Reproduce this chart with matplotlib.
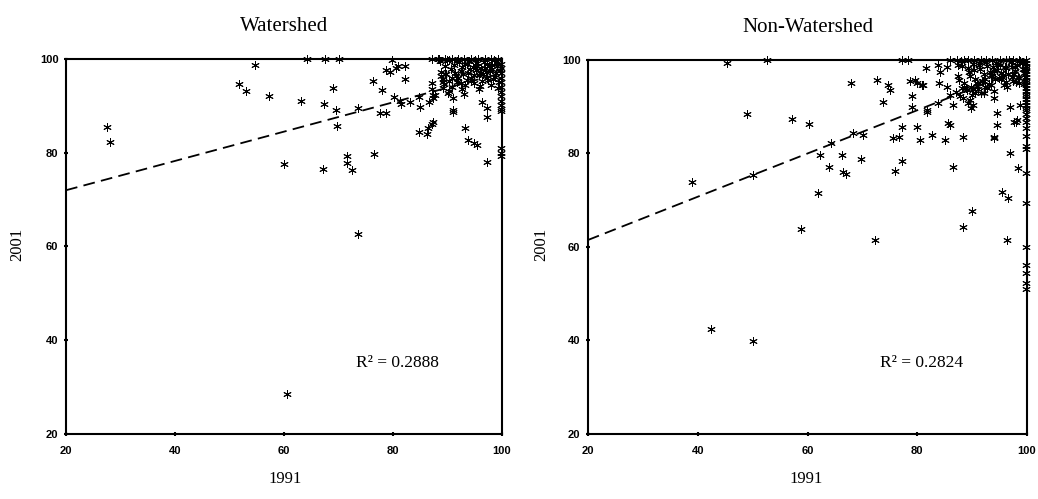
import matplotlib.pyplot as plt

# Watershed : points disperses (1991, 2001)
ws_x = [27.5, 28.1, 54.6, 51.7, 53.0, 57.3, 60.0, 63.1, 67.3, 69.0,
        69.6, 69.7, 67.2, 71.6, 71.6, 72.5, 73.6, 73.6, 76.4, 76.6,
        77.9, 77.6, 78.8, 78.8, 79.8, 80.1, 81.2, 81.5, 81.0, 82.2,
        82.2, 83.1, 84.7, 84.8, 85.0, 86.2, 86.5, 87.1, 87.4, 86.7,
        87.4, 87.7, 87.1, 87.1, 90.1, 91.0, 91.1, 93.2, 93.8, 94.8,
        95.4, 97.2, 96.3, 97.2, 97.2, 60.5, 64.2, 67.5, 70.1, 87.1,
        88.3, 80.6, 79.5, 89.2, 89.8, 90.2, 91.1, 87.3]
ws_y = [85.4, 82.2, 98.7, 94.6, 93.2, 92.2, 77.7, 91.0, 90.5, 93.9,
        89.1, 85.7, 76.5, 79.3, 77.8, 76.4, 89.5, 62.7, 95.2, 79.8,
        93.4, 88.4, 88.4, 97.6, 99.8, 91.9, 91.1, 90.5, 98.4, 98.5,
        95.7, 90.9, 84.5, 91.9, 89.8, 84.1, 85.2, 86.2, 86.6, 90.9,
        91.6, 92.4, 94.8, 93.7, 92.7, 89.1, 91.6, 85.2, 82.7, 82.0,
        81.6, 78.0, 90.9, 89.5, 87.7, 28.5, 100, 100, 100, 100,
        100, 98.0, 97.2, 95.1, 96.9, 99.8, 88.7, 92.3]

# Watershed : amas en haut a droite
ws_amas_x = [88.6, 88.9, 89.1, 89.3, 89.5, 89.2, 88.8, 89.6, 89.9, 90.3,
             90.6, 90.8, 91.2, 91.5, 91.8, 92.1, 92.4, 92.6, 92.9, 93.2,
             93.5, 93.8, 94.0, 94.3, 94.6, 94.9, 95.2, 95.5, 95.8, 96.1,
             96.4, 96.7, 97.0, 97.3, 97.6, 97.9, 98.2, 98.5, 98.8, 99.1,
             99.4, 91.4, 92.0, 92.7, 93.3, 94.1, 94.8, 95.4, 96.0, 96.6,
             97.2, 97.8, 98.4, 99.0, 99.6, 90.2, 90.9, 91.7, 92.5, 93.6,
             94.4, 95.1, 95.9, 96.8, 97.5, 98.1, 98.9, 99.3, 93.0, 95.7,
             88.5, 89.6, 90.8, 92.0, 93.1, 94.3, 95.6, 96.8, 98.0, 99.2]
ws_amas_y = [99.5, 97.2, 95.8, 94.6, 98.4, 93.8, 96.4, 96.9, 99.8, 95.2,
             97.9, 94.1, 98.7, 96.3, 95.0, 99.3, 97.5, 93.6, 96.8, 98.9,
             95.6, 97.1, 99.6, 96.0, 98.2, 94.8, 97.7, 99.1, 96.5, 98.0,
             95.3, 99.4, 97.3, 96.0, 98.6, 94.5, 97.9, 99.7, 96.2, 98.4,
             95.1, 97.0, 95.9, 98.3, 94.4, 97.8, 96.6, 98.5, 97.0, 96.9,
             99.0, 97.4, 95.8, 99.2, 97.6, 93.2, 96.0, 99.5, 94.9, 99.0,
             95.5, 99.8, 94.2, 98.1, 95.6, 98.8, 97.1, 93.9, 92.5, 93.5,
             100, 100, 100, 100, 100, 100, 100, 100, 100, 100]

# Watershed : colonne a 100 en 1991
ws_bord_y = [99.0, 98.0, 97.0, 96.0, 95.0, 94.0, 93.0, 92.0, 91.0, 90.2,
             89.4, 88.8, 81.0, 80.0, 79.3]

# Non-Watershed : points disperses
nw_x = [38.9, 45.3, 48.9, 50.1, 52.6, 57.1, 60.3, 58.9, 61.9, 62.3,
        64.0, 64.2, 66.2, 66.5, 67.1, 67.9, 68.2, 69.7, 70.2, 72.3,
        72.6, 73.8, 74.7, 75.0, 75.6, 76.6, 77.2, 75.9, 77.3, 77.2,
        78.4, 78.7, 79.6, 80.8, 79.0, 79.0, 79.9, 80.5, 81.7, 81.6,
        82.6, 85.1, 85.6, 86.0, 86.6, 88.4, 88.4, 89.9, 89.8, 93.9,
        94.5, 94.5, 95.4, 96.6, 96.3, 96.9, 96.9, 97.7, 98.4, 94.0,
        98.0, 42.4, 50.1, 83.8, 84.1, 85.4, 84.0, 85.4, 86.0, 86.6,
        83.8, 81.7, 87.5, 88.1, 89.6, 90.5, 90.2, 92.3, 93.9, 98.1,
        98.7, 79.9, 81.1]
nw_y = [73.8, 99.4, 88.4, 75.3, 100, 87.3, 86.2, 63.8, 71.5, 79.7,
        77.2, 82.3, 79.7, 76.1, 75.6, 95.0, 84.3, 78.8, 84.0, 61.5,
        95.7, 91.1, 94.7, 93.6, 83.3, 83.6, 85.7, 76.3, 78.3, 100,
        100, 95.4, 95.7, 94.7, 92.2, 90.0, 85.7, 82.9, 89.3, 98.2,
        84.0, 82.9, 86.5, 86.1, 77.2, 83.6, 64.3, 67.6, 89.8, 83.6,
        88.6, 86.1, 71.8, 70.4, 61.5, 80.0, 90.0, 86.8, 76.8, 83.3,
        86.8, 42.5, 39.8, 98.9, 97.5, 98.6, 95.0, 94.3, 92.5, 90.4,
        90.7, 88.9, 98.9, 93.9, 91.4, 92.9, 90.4, 94.3, 91.8, 87.2,
        90.4, 95.0, 94.7]

# Non-Watershed : amas en haut a droite
nw_amas_x = [87.0, 87.4, 87.8, 88.2, 88.6, 89.0, 89.4, 89.8, 90.2, 90.6,
             91.0, 91.4, 91.8, 92.2, 92.6, 93.0, 93.4, 93.8, 94.2, 94.6,
             95.0, 95.4, 95.8, 96.2, 96.6, 97.0, 97.4, 97.8, 98.2, 98.6,
             99.0, 99.4, 87.6, 88.4, 89.2, 90.0, 90.8, 91.6, 92.4, 93.2,
             94.0, 94.8, 95.6, 96.4, 97.2, 98.0, 98.8, 99.6, 88.0, 88.8,
             89.6, 90.4, 91.2, 92.0, 92.8, 93.6, 94.4, 95.2, 96.0, 96.8,
             97.6, 98.4, 99.2, 90.1, 91.3, 92.7, 93.9, 95.3, 96.5, 97.9,
             99.1, 89.3, 90.9, 92.1, 93.5, 94.9, 96.1, 97.3, 98.5, 99.5,
             86.0, 87.2, 88.5, 89.3, 90.4, 91.6, 92.5, 93.7, 95.0, 96.2,
             97.5, 98.6]
nw_amas_y = [93.1, 96.5, 92.4, 98.8, 95.0, 93.6, 97.4, 94.3, 99.2, 96.0,
             93.8, 98.0, 95.5, 97.0, 99.6, 94.8, 96.7, 98.5, 95.9, 97.8,
             99.0, 96.3, 94.6, 98.2, 97.1, 99.5, 95.4, 97.6, 98.9, 96.1,
             99.3, 97.2, 95.7, 91.8, 98.3, 92.6, 95.1, 93.0, 96.0, 97.4,
             93.4, 99.1, 96.8, 94.2, 98.6, 95.3, 99.8, 98.0, 99.7, 94.0,
             96.6, 97.9, 99.0, 95.6, 98.7, 96.5, 99.4, 97.2, 98.4, 99.9,
             97.0, 96.3, 98.1, 93.7, 99.3, 93.9, 97.7, 95.9, 96.9, 98.6,
             99.6, 90.9, 94.5, 92.9, 94.7, 96.2, 95.2, 96.4, 95.0, 94.9,
             100, 100, 100, 100, 100, 100, 100, 100, 100, 100,
             100, 100]

# Non-Watershed : colonne a 100 en 1991
nw_bord_y = [100, 99.4, 98.8, 98.2, 97.6, 97.0, 96.4, 95.8, 95.2, 94.6,
             94.0, 93.4, 92.8, 92.2, 91.6, 91.0, 90.4, 89.8, 89.2, 88.4,
             87.6, 86.8, 85.5, 83.7, 81.5, 81.0, 75.8, 69.4, 60.1, 56.1,
             54.5, 52.4, 51.0]

# droites de tendance (extremites)
ws_trend_x = [20, 100]
ws_trend_y = [72.0, 97.0]
nw_trend_x = [20, 100]
nw_trend_y = [61.5, 98.5]

ticks = [20, 40, 60, 80, 100]

fig = plt.figure(figsize=(10.38, 4.99), dpi=100)
serif = "Liberation Serif"
etoile = dict(ls="none", marker=(6, 2, 0), ms=6, mew=0.7, color="black",
              clip_on=False)


def panneau(ax, pts, amas, bord_y, tx, ty, titre, r2):
    ax.plot(pts[0], pts[1], **etoile)
    ax.plot(amas[0], amas[1], **etoile)
    ax.plot([99.8] * len(bord_y), bord_y, **etoile)
    ax.plot(tx, ty, color="black", lw=1.3, ls=(0, (6.5, 3.5)))
    ax.set_xlim(20, 100)
    ax.set_ylim(20, 100)
    ax.set_xticks(ticks)
    ax.set_yticks(ticks)
    for s in ax.spines.values():
        s.set_linewidth(1.5)
    ax.tick_params(direction="inout", length=3, width=1.5, labelsize=8)
    ax.tick_params(axis="x", pad=7)
    ax.tick_params(axis="y", pad=4)
    for lab in ax.get_xticklabels() + ax.get_yticklabels():
        lab.set_fontweight("bold")
        lab.set_family("Liberation Sans")
    ax.set_title(titre, family=serif, fontsize=15, pad=20)
    ax.text(0.76, 0.19, r2, transform=ax.transAxes, family=serif,
            fontsize=12.5, ha="center", va="center")


ax1 = fig.add_axes([0.0636, 0.1303, 0.420, 0.7515])
panneau(ax1, (ws_x, ws_y), (ws_amas_x, ws_amas_y), ws_bord_y,
        ws_trend_x, ws_trend_y, "Watershed", "R² = 0.2888")
ax2 = fig.add_axes([0.5665, 0.1303, 0.4229, 0.7495])
panneau(ax2, (nw_x, nw_y), (nw_amas_x, nw_amas_y), nw_bord_y,
        nw_trend_x, nw_trend_y, "Non-Watershed", "R² = 0.2824")

# etiquettes des axes
fig.text(0.275, 0.04, "1991", family=serif, fontsize=12, ha="center", va="center")
fig.text(0.777, 0.04, "1991", family=serif, fontsize=12, ha="center", va="center")
fig.text(0.017, 0.51, "2001", family=serif, fontsize=12, ha="center",
         va="center", rotation=90)
fig.text(0.521, 0.51, "2001", family=serif, fontsize=12, ha="center",
         va="center", rotation=90)

plt.savefig("out.png", dpi=100)
